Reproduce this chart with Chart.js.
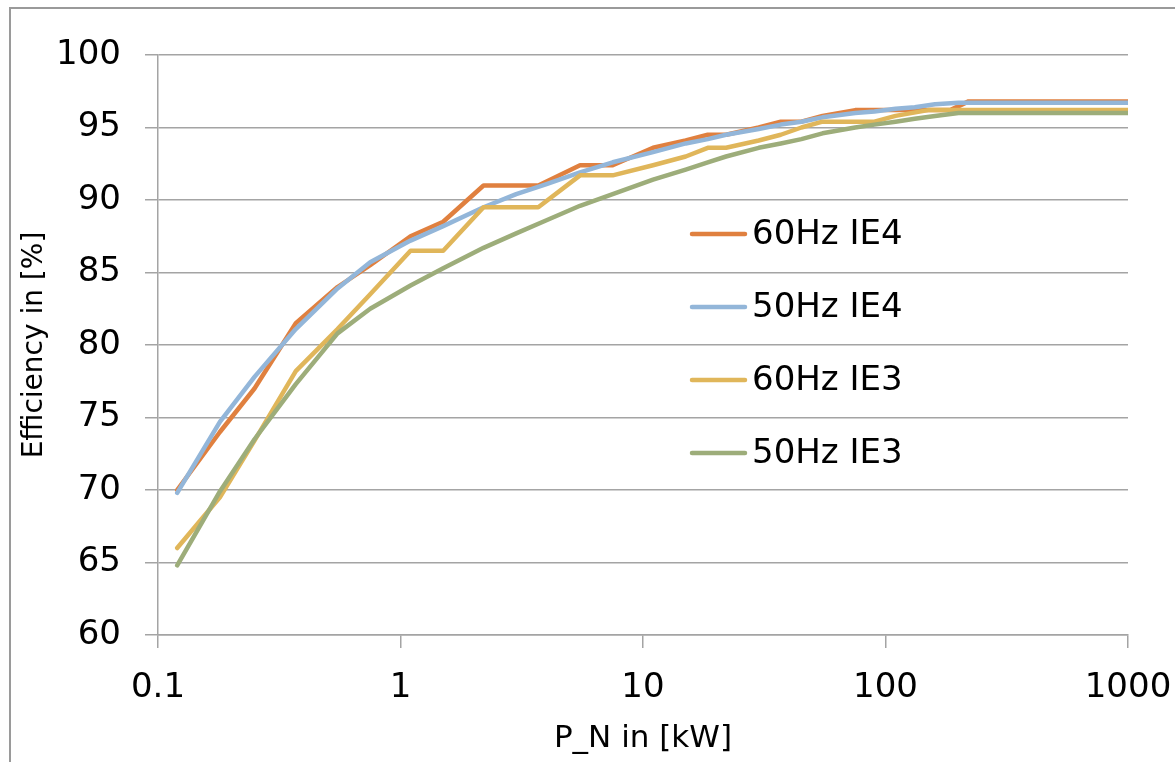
<!DOCTYPE html>
<html>
<head>
<meta charset="utf-8">
<script src="https://cdn.jsdelivr.net/npm/chart.js@4"></script>
<style>
  html, body { margin: 0; padding: 0; background: #fff; overflow: hidden; }
  #frame { position: absolute; left: 9px; top: 7px; width: 1300px; height: 900px; border: 2px solid #9a9a9a; }
  #chart { position: absolute; left: 0; top: 0; }
</style>
</head>
<body>
<div id="frame"></div>
<canvas id="chart" width="1175" height="762"></canvas>
<script>
// rated power [kW], 50 Hz table
const p50 = [0.12, 0.18, 0.25, 0.37, 0.55, 0.75, 1.1, 1.5, 2.2, 3, 4, 5.5, 7.5, 11, 15, 18.5, 22, 30, 37, 45, 55, 75, 90, 110, 132, 160, 200, 1000];
// rated power [kW], 60 Hz table
const p60 = [0.12, 0.18, 0.25, 0.37, 0.55, 0.75, 1.1, 1.5, 2.2, 3.7, 5.5, 7.5, 11, 15, 18.5, 22, 30, 37, 45, 55, 75, 90, 110, 150, 185, 220, 1000];

const ie4_60 = [70.0, 74.0, 77.0, 81.5, 84.0, 85.5, 87.5, 88.5, 91.0, 91.0, 92.4, 92.4, 93.6, 94.1, 94.5, 94.5, 95.0, 95.4, 95.4, 95.8, 96.2, 96.2, 96.2, 96.2, 96.2, 96.8, 96.8];
const ie4_50 = [69.8, 74.7, 77.8, 81.1, 83.9, 85.7, 87.2, 88.2, 89.5, 90.4, 91.1, 91.9, 92.6, 93.3, 93.9, 94.2, 94.5, 94.9, 95.2, 95.4, 95.7, 96.0, 96.1, 96.3, 96.4, 96.6, 96.7, 96.7];
const ie3_60 = [66.0, 69.5, 73.4, 78.2, 81.1, 83.5, 86.5, 86.5, 89.5, 89.5, 91.7, 91.7, 92.4, 93.0, 93.6, 93.6, 94.1, 94.5, 95.0, 95.4, 95.4, 95.4, 95.8, 96.2, 96.2, 96.2, 96.2];
const ie3_50 = [64.8, 69.9, 73.5, 77.3, 80.8, 82.5, 84.1, 85.3, 86.7, 87.7, 88.6, 89.6, 90.4, 91.4, 92.1, 92.6, 93.0, 93.6, 93.9, 94.2, 94.6, 95.0, 95.2, 95.4, 95.6, 95.8, 96.0, 96.0];

const seriesNames = ['60Hz IE4', '50Hz IE4', '60Hz IE3', '50Hz IE3'];
const seriesColors = ['#E0803F', '#93B6D9', '#E0B65A', '#9DAD7A'];
const xTicks = [0.1, 1, 10, 100, 1000];

const FONT = 'DejaVu Sans';
const GRID = '#a4a4a4';

const pts = (xs, ys) => xs.map((x, i) => ({ x, y: ys[i] }));
const seriesData = [pts(p60, ie4_60), pts(p50, ie4_50), pts(p60, ie3_60), pts(p50, ie3_50)];

// legend drawn inside the plot, like the original
const insideLegend = {
  id: 'insideLegend',
  afterDatasetsDraw(chart) {
    const ctx = chart.ctx;
    ctx.save();
    ctx.font = `34px "${FONT}"`;
    ctx.textBaseline = 'middle';
    ctx.fillStyle = '#000';
    chart.data.datasets.forEach((ds, i) => {
      const y = 234 + i * 73;
      ctx.strokeStyle = ds.borderColor;
      ctx.lineWidth = 4.5;
      ctx.lineCap = 'round';
      ctx.beginPath();
      ctx.moveTo(692, y);
      ctx.lineTo(745, y);
      ctx.stroke();
      ctx.fillText(ds.label, 752, y + 1);
    });
    ctx.restore();
  }
};

new Chart(document.getElementById('chart'), {
  type: 'scatter',
  data: {
    datasets: seriesNames.map((name, i) => ({
      label: name,
      data: seriesData[i],
      showLine: true,
      borderColor: seriesColors[i],
      backgroundColor: seriesColors[i],
      borderWidth: 4.5,
      pointRadius: 0,
      borderCapStyle: 'round',
      borderJoinStyle: 'round',
      order: 4 - i
    }))
  },
  options: {
    responsive: false,
    animation: false,
    layout: { padding: { left: 0, top: 55, right: 47, bottom: 0 } },
    plugins: { legend: { display: false }, tooltip: { enabled: false } },
    scales: {
      x: {
        type: 'logarithmic',
        min: 0.1,
        max: 1000,
        afterBuildTicks: (s) => { s.ticks = xTicks.map(v => ({ value: v })); },
        afterFit: (s) => { s.height = 127; s.paddingLeft = 0; s.paddingRight = 0; },
        grid: { drawOnChartArea: false, drawTicks: true, tickLength: 13, color: GRID, lineWidth: 1.5 },
        border: { color: GRID, width: 1.5 },
        ticks: { color: '#000', padding: 20, maxRotation: 0, font: { family: FONT, size: 34 }, callback: (v) => String(v) },
        title: { display: true, text: 'P_N in [kW]', color: '#000', font: { family: FONT, size: 31 }, padding: { top: 0, bottom: 4 } }
      },
      y: {
        min: 60,
        max: 100,
        afterFit: (s) => { s.width = 158; },
        grid: { tickLength: 13, color: GRID, lineWidth: 1.5 },
        border: { color: GRID, width: 1.5 },
        ticks: { stepSize: 5, color: '#000', padding: 24, font: { family: FONT, size: 34 } },
        title: { display: true, text: 'Efficiency in [%]', color: '#000', font: { family: FONT, size: 28 }, padding: { top: 18, bottom: 0 } }
      }
    }
  },
  plugins: [insideLegend]
});
</script>
</body>
</html>
